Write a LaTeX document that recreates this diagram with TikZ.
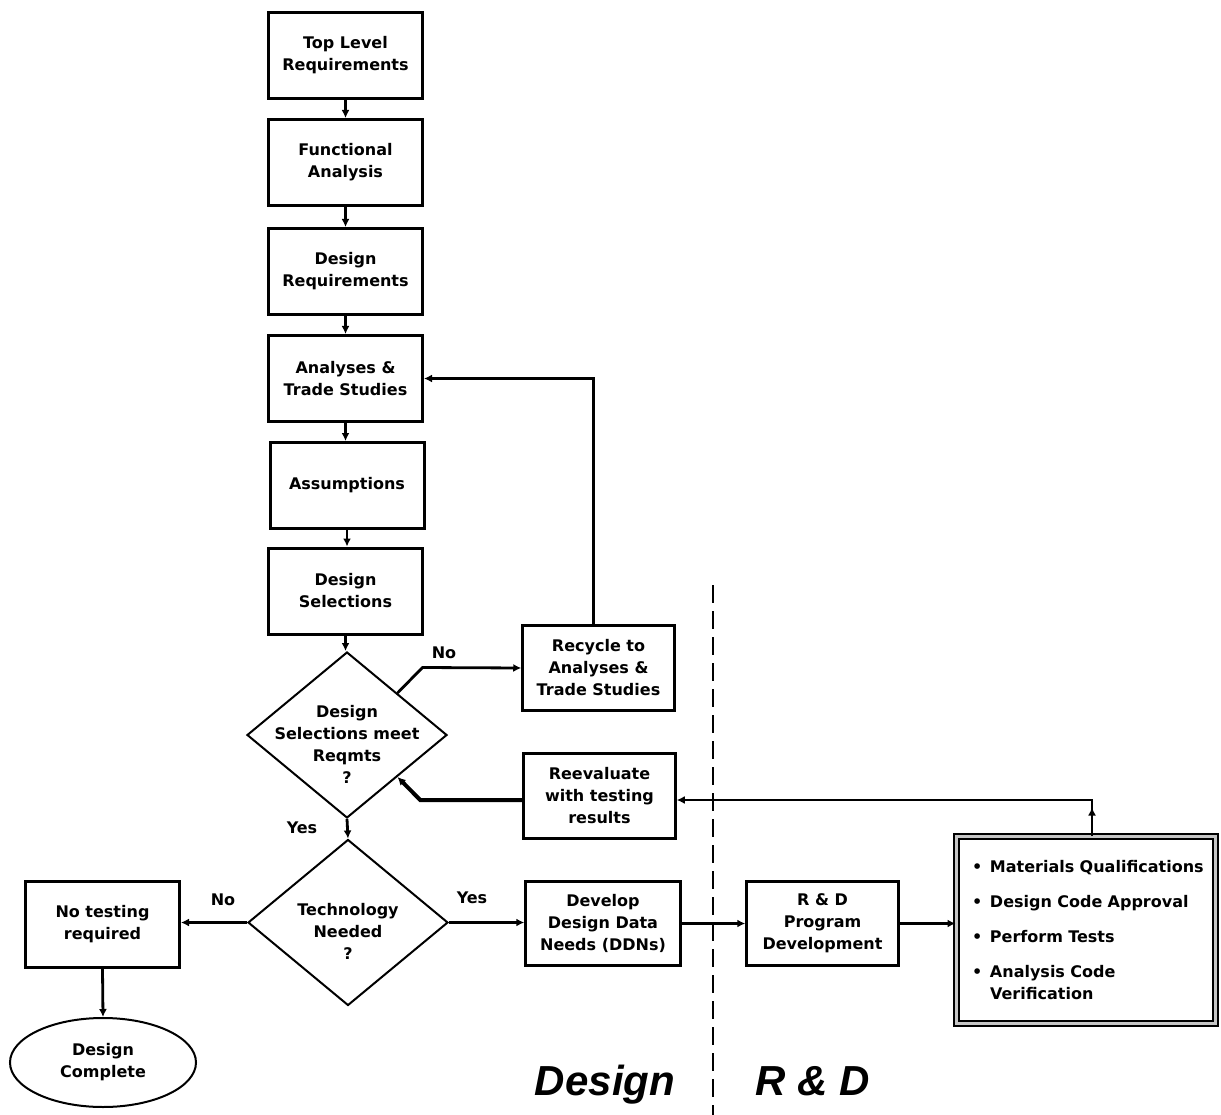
\documentclass[tikz,border=0pt]{standalone}
\usepackage{fontspec}
\setmainfont{DejaVu Sans}
\newfontfamily\regionfont{Liberation Sans}
\usetikzlibrary{shapes.geometric,arrows.meta,calc}
\newcommand{\bulitem}{\hspace*{6pt}\makebox[18pt][l]{\textbullet}}
\newcommand{\bulcont}{\hspace*{6pt}\makebox[18pt][l]{}}
\begin{document}
\begin{tikzpicture}[x=1pt,y=-1pt,
  every node/.style={font=\fontsize{16}{22}\selectfont\bfseries},
  box/.style={draw,line width=3pt,minimum width=154pt,minimum height=86pt,inner sep=2pt,align=center},
  sbox/.style={draw,line width=2.5pt,minimum width=152pt,minimum height=85pt,inner sep=2pt,align=center},
  dia/.style={draw,diamond,line width=2pt,minimum width=200pt,minimum height=166pt,inner sep=0pt},
  txt/.style={align=center,inner sep=0pt},
  ell/.style={draw,ellipse,line width=2pt,minimum width=186pt,minimum height=89pt,inner sep=0pt,align=center},
  big/.style={draw=black,line width=2pt,double=gray!45,double distance=3pt,minimum width=259pt,minimum height=187pt,text width=240pt,align=left,inner sep=0pt},
  conn/.style={line width=2.8pt,-{Latex[length=8pt,width=8pt]}},
  region/.style={font=\fontsize{42}{42}\regionfont\bfseries\itshape,inner sep=0pt,anchor=base},
  divider/.style={line width=2.5pt,dash pattern=on 18pt off 8pt}
]
\useasboundingbox (0,0) rectangle (1221,1115);

% column
\node[box] (tlr) at (345.5,55.5) {Top Level\\Requirements};
\node[box] (fa) at (345.5,162.5) {Functional\\Analysis};
\node[box] (dr) at (345.5,271.5) {Design\\Requirements};
\node[box] (ats) at (345.5,378.5) {Analyses \&\\Trade Studies};
\node[box] (asm) at (347,485.5) {Assumptions};
\node[box] (ds) at (345.5,591) {Design\\Selections};

% decisions
\node[dia] (d1) at (347,735) {};
\node[txt] (d1t) at (347,744) {Design\\Selections meet\\Reqmts\\?};
\node[dia] (d2) at (348,922.5) {};
\node[txt] (d2t) at (348,931) {Technology\\Needed\\?};

% side boxes
\node[sbox] (rec) at (598.5,668) {Recycle to\\Analyses \&\\Trade Studies};
\node[sbox] (rev) at (599.5,796) {Reevaluate\\with testing\\results};
\node[box] (nt) at (102.5,924.5) {No testing\\required};
\node[ell] (dc) at (103,1062.5) {Design\\Complete};
\node[sbox,minimum width=155pt,minimum height=84pt] (ddn) at (603,923.5) {Develop\\Design Data\\Needs (DDNs)};
\node[sbox,minimum height=84pt] (rd) at (822.5,923.5) {R \& D\\Program\\Development};
\node[big] (bb) at (1086,930) {%
\bulitem Materials Qualifications\\[13pt]
\bulitem Design Code Approval\\[13pt]
\bulitem Perform Tests\\[13pt]
\bulitem Analysis Code\\
\bulcont Verification};

% labels
\node (lno1) at (444,653) {No};
\node (lyes1) at (302,828) {Yes};
\node (lno2) at (223,900) {No};
\node (lyes2) at (472,898) {Yes};

% regions
\node[region] (ldes) at (605,1095) {Design};
\node[region] (lrd) at (813,1095) {R \& D};
\coordinate (dtop) at (713,585);
\coordinate (dbot) at (713,1115);
\draw[divider] (dtop) -- (dbot);

% connectors
\draw[conn] (tlr.south) -- (fa.north);
\draw[conn] (fa.south) -- (dr.north);
\draw[conn] (dr.south) -- (ats.north);
\draw[conn] (ats.south) -- (ats.south |- asm.north);
\draw[conn] (asm.south) -- (asm.south |- ds.north);
\draw[conn] (ds.south) -- (ds.south |- d1.north);
\draw[conn] ($(rec.north)+(-5,0)$) |- (ats.east);
\draw[conn] ($(d1.north)!0.5!(d1.east)$) -- ++(25,-25.5) -- (rec.west);
\draw[conn,line width=4pt] ($(rev.west)+(0,4)$) -- ++(-102,0) -- ($(d1.east)!0.5!(d1.south)$);
\draw[conn] ($(bb.north)+(6,0)$) |- ($(rev.east)+(0,4)$);
\draw[conn] ($(bb.north)+(6,0)$) -- ++(0,-28);
\draw[conn] (d1.south) -- (d2.north);
\draw[conn] (d2.west) -- (d2.west -| nt.east);
\draw[conn] (d2.east) -- (d2.east -| ddn.west);
\draw[conn] (ddn.east) -- (ddn.east -| rd.west);
\draw[conn] (rd.east) -- (rd.east -| bb.west);
\draw[conn] (nt.south) -- (dc.north);
\end{tikzpicture}
\end{document}
